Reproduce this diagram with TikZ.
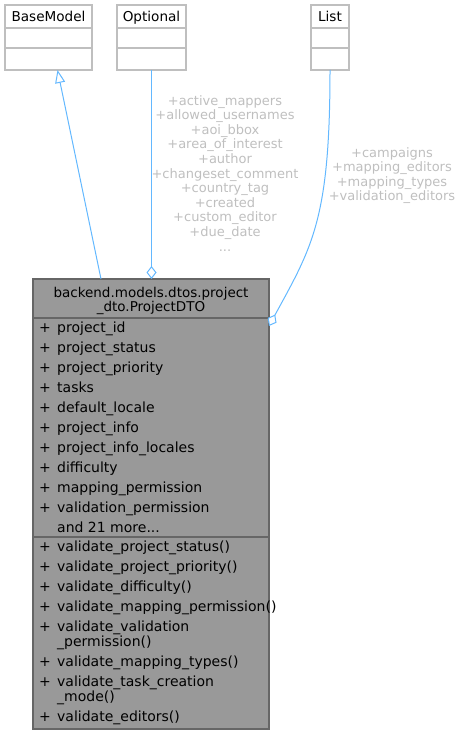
\documentclass[tikz,border=0pt]{standalone}
\usepackage{fontspec}
\setmainfont{DejaVu Sans}
\usetikzlibrary{arrows.meta, positioning}

\begin{document}
\begin{tikzpicture}[x=1pt, y=-1pt]

\definecolor{edgeblue}{RGB}{99, 184, 255}
\definecolor{labelgray}{RGB}{191, 191, 191}
\definecolor{boxgray}{RGB}{153, 153, 153}
\definecolor{darkline}{RGB}{102, 102, 102}

% Fix the page size
\useasboundingbox (0,0) rectangle (462,735);

\tikzset{
    umlfont/.style={
        font=\fontsize{13.5}{15}\selectfont
    },
    classbox/.style={
        draw=labelgray, line width=1.3pt, fill=white,
        rectangle, inner sep=0pt, outer sep=0pt, minimum height=65pt
    },
    mainbox/.style={
        draw=darkline, line width=1.3pt, fill=boxgray,
        rectangle, inner sep=0pt, outer sep=0pt
    },
    member/.style={
        anchor=base west, inner sep=0pt,
        font=\fontsize{14}{15}\selectfont
    },
    edgelabel/.style={
        text=labelgray, align=center, inner sep=0pt,
        font=\fontsize{13}{14.6}\selectfont
    },
    inherit/.style={
        draw=edgeblue, line width=1pt,
        -{Triangle[open, length=13pt, width=10pt, fill=white]}
    },
    aggregate/.style={
        draw=edgeblue, line width=1pt,
        -{Diamond[open, length=13pt, width=10pt, fill=white]}
    }
}

% --- TOP ROW: USED CLASSES ---

\node[classbox, minimum width=87pt] (base) at (48.5, 37.5) {};
\node[classbox, minimum width=69pt] (optional) at (151.5, 37.5) {};
\node[classbox, minimum width=38pt] (list) at (330, 37.5) {};

\foreach \cls/\title in {base/BaseModel, optional/Optional, list/List} {
    \node[anchor=base, inner sep=0pt, font=\fontsize{13.6}{15}\selectfont] at ([yshift=-17pt]\cls.north) {\title};
    \draw[labelgray, line width=1.3pt] ([yshift=-23pt]\cls.north west) -- ([yshift=-23pt]\cls.north east);
    \draw[labelgray, line width=1.3pt] ([yshift=-43pt]\cls.north west) -- ([yshift=-43pt]\cls.north east);
}

% --- MAIN CLASS: ProjectDTO ---

\node[mainbox, minimum width=236pt, minimum height=450pt] (dto) at (151, 504) {};
\node[umlfont, anchor=base, inner sep=0pt] at (151, 297) {backend.models.dtos.project};
\node[umlfont, anchor=base, inner sep=0pt] at (151, 311) {\_dto.ProjectDTO};
\draw[darkline, line width=1.3pt] ([yshift=-39pt]dto.north west) -- ([yshift=-39pt]dto.north east);
\draw[darkline, line width=1.3pt] ([yshift=-258pt]dto.north west) -- ([yshift=-258pt]dto.north east);

% Attributes
\foreach \name [count=\i from 0] in {project\_id, project\_status, project\_priority, tasks,
    default\_locale, project\_info, project\_info\_locales, difficulty,
    mapping\_permission, validation\_permission} {
    \node[member] at (39, {332+20*\i}) {\makebox[18pt][l]{+}\name};
}
\node[member] at (57, 532) {and 21 more...};

% Methods
\foreach \y/\p/\name in {551/+/validate\_project\_status(), 571/+/validate\_project\_priority(),
    591/+/validate\_difficulty(), 611/+/validate\_mapping\_permission(),
    631/+/validate\_validation, 646//\_permission(), 666/+/validate\_mapping\_types(),
    686/+/validate\_task\_creation, 701//\_mode(), 721/+/validate\_editors()} {
    \node[member] at (39, \y) {\makebox[18pt][l]{\p}\name};
}

% --- RELATIONS ---

% Inheritance
\draw[inherit] ([xshift=68pt]dto.north west) -- ([xshift=52.5pt]base.south west);

% Optional members
\draw[aggregate] (optional.south) -- (optional.south |- dto.north);
\node[edgelabel, anchor=north] (optlabel) at (225, 95) {+active\_mappers\\+allowed\_usernames\\+aoi\_bbox\\+area\_of\_interest\\+author\\+changeset\_comment\\+country\_tag\\+created\\+custom\_editor\\+due\_date\\...};

% List members
\draw[aggregate] (list.south) .. controls +(0,150) and +(43,-79) .. ([yshift=-47pt]dto.north east);
\node[edgelabel, anchor=north] (listlabel) at (392, 147) {+campaigns\\+mapping\_editors\\+mapping\_types\\+validation\_editors};

\end{tikzpicture}
\end{document}
